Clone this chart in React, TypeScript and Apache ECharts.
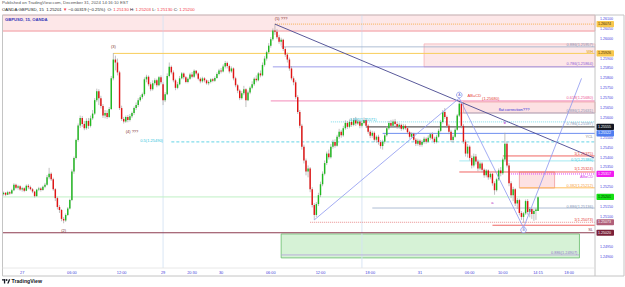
import React, { useEffect, useRef } from "react";
import * as echarts from "echarts";

const FONT = "'Liberation Sans', Arial, sans-serif";

// 15-minute candles, in 1/100000 above 1.20000: [open, close, low, high]
const candles: number[][] = [
  [5215, 5222, 5208, 5228], [5222, 5212, 5205, 5226], [5212, 5225, 5210, 5232], [5225, 5218, 5212, 5230],
  [5218, 5235, 5215, 5242], [5235, 5262, 5230, 5270], [5262, 5248, 5240, 5268], [5248, 5255, 5238, 5262],
  [5255, 5238, 5232, 5260], [5238, 5245, 5228, 5252], [5245, 5232, 5225, 5250], [5232, 5258, 5230, 5264],
  [5258, 5250, 5240, 5266], [5250, 5240, 5234, 5258], [5240, 5228, 5220, 5246], [5228, 5205, 5198, 5232],
  [5205, 5238, 5202, 5242], [5238, 5244, 5230, 5252], [5244, 5236, 5228, 5250], [5236, 5252, 5232, 5258],
  [5252, 5262, 5245, 5272], [5262, 5300, 5258, 5312], [5300, 5318, 5290, 5348], [5318, 5290, 5282, 5325],
  [5290, 5240, 5232, 5298], [5240, 5195, 5180, 5246], [5195, 5150, 5138, 5202], [5150, 5135, 5120, 5160],
  [5135, 5090, 5078, 5140], [5090, 5082, 5068, 5100], [5082, 5110, 5075, 5118], [5110, 5142, 5105, 5150],
  [5142, 5185, 5138, 5192], [5185, 5330, 5180, 5340], [5330, 5398, 5318, 5405], [5398, 5488, 5390, 5495],
  [5488, 5562, 5480, 5572], [5562, 5600, 5550, 5612], [5600, 5570, 5555, 5610], [5570, 5548, 5538, 5585],
  [5548, 5585, 5540, 5598], [5585, 5560, 5545, 5600], [5560, 5598, 5552, 5612], [5598, 5622, 5590, 5640],
  [5622, 5690, 5615, 5700], [5690, 5735, 5680, 5748], [5735, 5700, 5665, 5745], [5700, 5660, 5648, 5712],
  [5660, 5612, 5600, 5670], [5612, 5625, 5598, 5640], [5625, 5605, 5595, 5638], [5605, 5645, 5600, 5655],
  [5645, 5800, 5640, 5812], [5800, 5895, 5790, 5928], [5895, 5880, 5840, 5915], [5880, 5830, 5815, 5900],
  [5830, 5650, 5640, 5838], [5650, 5595, 5585, 5662], [5595, 5582, 5572, 5605], [5582, 5605, 5575, 5612],
  [5605, 5590, 5578, 5615], [5590, 5608, 5582, 5620], [5608, 5625, 5600, 5632], [5625, 5650, 5615, 5658],
  [5650, 5665, 5640, 5678], [5665, 5690, 5655, 5700], [5690, 5705, 5682, 5715], [5705, 5720, 5695, 5728],
  [5720, 5795, 5712, 5805], [5795, 5808, 5780, 5818], [5808, 5770, 5760, 5815], [5770, 5745, 5735, 5780],
  [5745, 5775, 5738, 5790], [5775, 5790, 5765, 5800], [5790, 5765, 5755, 5798], [5765, 5805, 5760, 5812],
  [5805, 5780, 5770, 5815],
  [5770, 5690, 5665, 5780], [5690, 5720, 5680, 5730], [5720, 5812, 5715, 5825], [5812, 5858, 5805, 5880],
  [5858, 5830, 5820, 5865], [5830, 5790, 5780, 5840], [5790, 5752, 5740, 5798], [5752, 5770, 5745, 5782],
  [5770, 5800, 5765, 5812], [5800, 5825, 5795, 5832], [5825, 5805, 5795, 5830], [5805, 5782, 5775, 5812],
  [5782, 5798, 5775, 5805], [5798, 5820, 5792, 5828], [5820, 5808, 5800, 5832], [5808, 5838, 5802, 5845],
  [5838, 5825, 5815, 5842], [5825, 5798, 5790, 5830], [5798, 5785, 5775, 5805], [5785, 5800, 5778, 5808],
  [5800, 5790, 5780, 5806], [5790, 5775, 5768, 5795], [5775, 5782, 5765, 5790], [5782, 5795, 5775, 5800],
  [5795, 5788, 5780, 5802], [5788, 5802, 5782, 5810], [5802, 5822, 5798, 5830], [5822, 5840, 5815, 5848],
  [5840, 5835, 5825, 5852], [5835, 5860, 5830, 5870], [5860, 5878, 5850, 5888], [5878, 5862, 5850, 5885],
  [5862, 5835, 5825, 5870], [5835, 5850, 5828, 5860], [5850, 5800, 5790, 5855], [5800, 5765, 5755, 5808],
  [5765, 5738, 5725, 5772], [5738, 5700, 5690, 5745], [5700, 5725, 5692, 5735], [5725, 5745, 5715, 5762],
  [5745, 5690, 5655, 5750], [5690, 5728, 5685, 5738], [5728, 5752, 5720, 5760], [5752, 5770, 5745, 5785],
  [5770, 5798, 5762, 5805], [5798, 5790, 5780, 5815], [5790, 5825, 5785, 5832], [5825, 5815, 5805, 5840],
  [5815, 5868, 5810, 5880], [5868, 5900, 5860, 5912], [5900, 5932, 5890, 5940], [5932, 5965, 5925, 5978],
  [5965, 5998, 5955, 6008], [5998, 6042, 5990, 6052], [6042, 6035, 6020, 6074], [6035, 6008, 5998, 6048],
  [6008, 5985, 5975, 6020], [5985, 5995, 5965, 6005], [5995, 5948, 5938, 6000], [5948, 5920, 5908, 5958],
  [5920, 5895, 5880, 5930], [5895, 5850, 5838, 5905], [5850, 5800, 5790, 5862], [5800, 5780, 5765, 5810],
  [5780, 5705, 5695, 5790], [5705, 5630, 5620, 5715], [5630, 5560, 5548, 5640], [5560, 5455, 5440, 5570],
  [5455, 5385, 5370, 5465], [5385, 5330, 5310, 5395], [5330, 5345, 5300, 5360], [5345, 5240, 5225, 5352],
  [5240, 5160, 5148, 5250], [5160, 5110, 5085, 5170], [5110, 5165, 5100, 5175], [5165, 5210, 5155, 5222],
  [5210, 5265, 5200, 5278], [5265, 5318, 5255, 5330], [5318, 5372, 5310, 5385], [5372, 5420, 5362, 5430],
  [5420, 5402, 5390, 5440], [5402, 5455, 5395, 5468], [5455, 5478, 5445, 5490], [5478, 5460, 5450, 5492],
  [5460, 5505, 5455, 5515], [5505, 5530, 5495, 5545], [5530, 5512, 5500, 5540], [5512, 5548, 5505, 5560],
  [5548, 5575, 5540, 5588], [5575, 5555, 5545, 5585], [5555, 5580, 5548, 5592], [5580, 5565, 5555, 5598],
  [5565, 5590, 5558, 5600], [5590, 5572, 5560, 5605], [5572, 5582, 5565, 5596], [5582, 5560, 5548, 5590],
  [5560, 5575, 5552, 5585], [5575, 5590, 5568, 5602], [5590, 5560, 5550, 5598], [5560, 5530, 5520, 5568],
  [5530, 5510, 5498, 5540], [5510, 5525, 5500, 5535], [5525, 5490, 5478, 5532], [5490, 5505, 5475, 5512],
  [5505, 5478, 5465, 5515], [5478, 5458, 5445, 5488], [5458, 5480, 5440, 5490], [5480, 5512, 5470, 5520],
  [5512, 5548, 5505, 5558], [5548, 5575, 5540, 5585], [5575, 5560, 5550, 5590], [5560, 5582, 5552, 5592],
  [5582, 5570, 5560, 5595], [5570, 5555, 5545, 5580], [5555, 5565, 5545, 5575], [5565, 5545, 5535, 5572],
  [5545, 5560, 5538, 5570], [5560, 5548, 5540, 5568], [5548, 5528, 5518, 5555], [5528, 5505, 5495, 5535],
  [5505, 5520, 5498, 5528], [5520, 5490, 5480, 5525], [5490, 5470, 5458, 5498], [5470, 5485, 5460, 5495],
  [5485, 5465, 5455, 5492], [5465, 5478, 5455, 5488], [5478, 5495, 5470, 5505], [5495, 5480, 5470, 5502],
  [5480, 5500, 5475, 5512], [5500, 5518, 5490, 5525], [5518, 5495, 5485, 5528], [5495, 5478, 5470, 5505],
  [5478, 5505, 5472, 5515], [5505, 5535, 5500, 5545], [5535, 5580, 5528, 5590], [5580, 5630, 5572, 5640],
  [5630, 5605, 5595, 5650], [5605, 5560, 5550, 5612], [5560, 5530, 5518, 5570], [5530, 5488, 5478, 5540],
  [5488, 5505, 5475, 5515], [5505, 5540, 5500, 5550], [5540, 5612, 5535, 5620], [5612, 5672, 5605, 5688],
  [5672, 5560, 5548, 5680], [5560, 5480, 5470, 5570], [5480, 5420, 5405, 5490], [5420, 5455, 5400, 5468],
  [5455, 5398, 5385, 5462], [5398, 5360, 5345, 5410], [5360, 5405, 5350, 5420], [5405, 5380, 5365, 5418],
  [5380, 5345, 5330, 5390], [5345, 5370, 5335, 5380], [5370, 5338, 5325, 5378], [5338, 5310, 5298, 5345],
  [5310, 5335, 5300, 5342], [5335, 5300, 5288, 5340], [5300, 5318, 5290, 5325], [5318, 5270, 5258, 5322],
  [5270, 5235, 5212, 5280], [5235, 5290, 5228, 5298], [5290, 5335, 5282, 5345], [5335, 5320, 5305, 5352],
  [5320, 5390, 5312, 5400], [5390, 5470, 5380, 5525], [5470, 5360, 5350, 5480], [5360, 5270, 5255, 5372],
  [5270, 5210, 5195, 5280], [5210, 5240, 5180, 5252], [5240, 5168, 5155, 5245], [5168, 5185, 5140, 5195],
  [5185, 5120, 5108, 5192], [5120, 5100, 5085, 5130], [5100, 5118, 5070, 5125], [5118, 5180, 5110, 5188],
  [5180, 5125, 5112, 5190], [5125, 5140, 5098, 5150], [5140, 5115, 5090, 5145], [5115, 5130, 5080, 5138],
  [5130, 5138, 5085, 5145], [5130, 5200, 5130, 5203],
];

// trading sessions: [year, month(0-based), day, hour, minute, number of 15-minute slots]
const sessions: number[][] = [
  [2024, 11, 26, 21, 45, 77],
  [2024, 11, 29, 17, 0, 209],
];

// time-axis tick labels
const timeTicks: [string, string][] = [
  ["12-27 00:00", "27"], ["12-27 06:00", "06:00"], ["12-27 12:00", "12:00"],
  ["12-29 17:00", "29"], ["12-29 20:30", "20:30"], ["12-30 00:00", "30"],
  ["12-30 06:00", "06:00"], ["12-30 12:00", "12:00"], ["12-30 18:00", "18:00"],
  ["12-31 00:00", "31"], ["12-31 06:00", "06:00"], ["12-31 10:00", "10:00"],
  ["12-31 14:15", "14:15"], ["12-31 18:00", "18:00"],
];

// price-axis labels that are not hidden by price tags
const priceTicks: number[] = [
  1.261, 1.2605, 1.26, 1.259, 1.2585, 1.258, 1.2575, 1.257, 1.2565, 1.256, 1.255,
  1.2545, 1.254, 1.2535, 1.2525, 1.2515, 1.251, 1.2495, 1.249,
];

// session break bars
const sessionBreaks: number[] = [77, 173];

// horizontal levels: [fromBar (-1 = left edge), toBar (-1 = right edge), price, style]
const levels: [number, number, number, string][] = [
  [-1, -1, 1.26039, "zoneEdge"],
  [131, -1, 1.26074, "orangeDot"],
  [134, -1, 1.25959, "fibGray"],
  [53, -1, 1.25926, "yellow"],
  [130, -1, 1.25858, "violet"],
  [129, -1, 1.25686, "pink"],
  [220, -1, 1.25625, "fibGray"],
  [158, -1, 1.2558, "cyanDot"],
  [175, -1, 1.25555, "darkGray"],
  [183, -1, 1.25522, "ycl"],
  [81, -1, 1.25479, "cyanDash"],
  [241, -1, 1.25408, "red"],
  [220, -1, 1.25383, "cyan"],
  [220, -1, 1.25327, "red"],
  [244, -1, 1.25317, "magentaDot"],
  [249, -1, 1.25247, "orange"],
  [-1, -1, 1.25201, "lightGreen"],
  [178, -1, 1.25145, "fibGray"],
  [148, -1, 1.25073, "redDot"],
  [236, -1, 1.25058, "red"],
  [-1, -1, 1.2502, "maroon"],
  [134, 278, 1.24908, "purple"],
];

// boxes: [fromBar, toBar, topPrice, bottomPrice, style]
const zones: [number, number, number, number, string][] = [
  [-1, -1, 1.2612, 1.26039, "pinkZone"],
  [203, -1, 1.25974, 1.25858, "pinkZone"],
  [222, -1, 1.25681, 1.25625, "pinkBox"],
  [249, 266, 1.25327, 1.25246, "pinkBox"],
  [134, 278, 1.25014, 1.24893, "greenZone"],
];

// trend lines: [bar1, price1, bar2, price2, style]
const trends: [number, number, number, number, string][] = [
  [131, 1.26074, 285, 1.25398, "navy"],
  [150, 1.25085, 220, 1.257, "wave"],
  [220, 1.257, 251, 1.25045, "wave"],
  [251, 1.25045, 279, 1.258, "wave"],
];

// text notes: [bar, price, text, colour key, align]
const notes: [number, number, string, string, string][] = [
  [29, 1.25029, "(2)", "wave", "center"],
  [53, 1.25959, "(3)", "wave", "center"],
  [62, 1.25529, "(4) ???", "wave", "center"],
  [134, 1.26102, "(5) ???", "wave", "center"],
  [242, 1.25575, "b", "abc", "center"],
  [236, 1.25171, "a", "abc", "center"],
  [66, 1.25484, "0.5(1.25490)", "cyan", "left"],
  [167, 1.2559, "0.382(1.25571)", "cyan", "left"],
  [224, 1.25711, "AB=CD", "red", "left"],
  [231, 1.25696, "(1.25680)", "red", "left"],
  [239, 1.25645, "flat correction???", "blue", "left"],
];

// labels at the right end of levels: [price, text, colour key]
const edgeLabels: [number, string, string][] = [
  [1.2597, "0.886(1.25957)", "fib"],
  [1.25938, "WH", "yellow"],
  [1.25874, "0.786(1.25864)", "violet"],
  [1.25701, "0.618(1.25680)", "pink"],
  [1.2564, "0.886(1.25631)", "fib"],
  [1.2557, "0.786(1.25597)", "fib"],
  [1.25508, "YCL", "gray"],
  [1.25418, "1(1.25375)", "red"],
  [1.25391, "0.5(1.25386)", "cyan"],
  [1.25344, "1(1.25324)", "red"],
  [1.25302, "AB=CD", "magenta"],
  [1.25257, "0.382(1.25212)", "orange"],
  [1.25155, "0.886(1.25136)", "fib"],
  [1.25085, "1(1.25073)", "red"],
  [1.25034, "SL", "maroon"],
];
const greenBoxLabel: [number, number, string] = [277, 1.24918, "0.886(1.24907)"];

// circled wave points: [bar, price, letter]
const circles: [number, number, string][] = [
  [220, 1.25716, "A"],
  [251, 1.25034, "B"],
];

// price tags on the axis: [price, text, background, text colour]
const tags: [number, string, string, string][] = [
  [1.26074, "1.26074", "#f8c74e", "#3a2a00"],
  [1.25926, "1.25926", "#f8c74e", "#3a2a00"],
  [1.25555, "1.25555", "#131722", "#ffffff"],
  [1.25522, "1.25522", "#4f7df0", "#ffffff"],
  [1.25317, "1.25317", "#f01cf0", "#ffffff"],
  [1.25201, "1.25201", "#13e013", "#053505"],
  [1.25073, "1.25073", "#b0607a", "#ffffff"],
  [1.2502, "1.25020", "#7a2038", "#ffffff"],
];

const lineStyles: Record<string, { stroke: string; w: number; dash?: number[] }> = {
  zoneEdge: { stroke: "#f3a7ad", w: 0.8 },
  orangeDot: { stroke: "#f5a331", w: 0.8, dash: [1, 1] },
  yellow: { stroke: "#f8cd5a", w: 1 },
  fibGray: { stroke: "#9badc9", w: 0.8 },
  violet: { stroke: "#8585e4", w: 0.8 },
  pink: { stroke: "#f07ab0", w: 0.9 },
  cyanDot: { stroke: "#5fd3e6", w: 0.8, dash: [1, 1] },
  darkGray: { stroke: "#5c5c5c", w: 1.3 },
  ycl: { stroke: "#6f8ff0", w: 1 },
  cyanDash: { stroke: "#3cc9df", w: 0.8, dash: [3, 2] },
  red: { stroke: "#ef5350", w: 0.9 },
  cyan: { stroke: "#8ee3ee", w: 0.8 },
  magentaDot: { stroke: "#e040fb", w: 1, dash: [1, 1] },
  orange: { stroke: "#ffb74d", w: 0.9 },
  lightGreen: { stroke: "#bff0c4", w: 1 },
  redDot: { stroke: "#e57373", w: 0.8, dash: [1, 1] },
  maroon: { stroke: "#8d3b4f", w: 1 },
  purple: { stroke: "#b39ddb", w: 0.8 },
  navy: { stroke: "#46468f", w: 0.9 },
  wave: { stroke: "#8c97f0", w: 0.8 },
};
const zoneStyles: Record<string, { fill: string; stroke: string }> = {
  pinkZone: { fill: "rgba(242,54,69,0.12)", stroke: "#f5b3b8" },
  pinkBox: { fill: "rgba(242,54,69,0.15)", stroke: "#ef9a9a" },
  greenZone: { fill: "rgba(90,205,90,0.25)", stroke: "#66bb6a" },
};
const textColors: Record<string, string> = {
  wave: "#7d2c2c", abc: "#b020c0", cyan: "#2ec4dc", red: "#e53935", blue: "#2b2bd9",
  fib: "#8193b6", yellow: "#e0a000", violet: "#8a5ad8", pink: "#ee5596", gray: "#8a8a8a",
  magenta: "#d63ae8", orange: "#f5a040", maroon: "#8d3b4f",
};

const AXIS_BLUE = "#4343dc";
const PX = (v: number) => 1.2 + v / 100000;

function pad(n: number) {
  return n < 10 ? "0" + n : "" + n;
}
function buildCategories(): string[] {
  const out: string[] = [];
  for (const [y, m, d, hh, mm, n] of sessions) {
    const t0 = Date.UTC(y, m, d, hh, mm);
    for (let k = 0; k < n; k++) {
      const dt = new Date(t0 + k * 900000);
      out.push(
        `${pad(dt.getUTCMonth() + 1)}-${pad(dt.getUTCDate())} ${pad(dt.getUTCHours())}:${pad(dt.getUTCMinutes())}`
      );
    }
  }
  return out;
}

export default function App() {
  const ref = useRef<HTMLDivElement>(null);
  useEffect(() => {
    if (!ref.current) return;
    const chart = echarts.init(ref.current, undefined, { renderer: "svg" });
    const categories = buildCategories();
    const tickMap = new Map(timeTicks);
    const edgeX = (cs: any, bar: number, api: any, price: number, side: "l" | "r") => {
      if (bar < 0) return side === "l" ? cs.x : cs.x + cs.width;
      return api.coord([bar, price])[0];
    };

    const option: any = {
      animation: false,
      backgroundColor: "#ffffff",
      grid: { left: 2.5, right: 30, top: 15, bottom: 19 },
      xAxis: {
        type: "category",
        data: categories,
        boundaryGap: true,
        axisLine: { show: false },
        axisTick: { show: false },
        splitLine: { show: false },
        axisLabel: {
          interval: (_i: number, name: string) => tickMap.has(name),
          formatter: (name: string) => tickMap.get(name) ?? "",
          fontSize: 3.9,
          fontFamily: FONT,
          color: AXIS_BLUE,
          margin: 2.5,
        },
      },
      yAxis: {
        type: "value",
        position: "right",
        min: 1.24842,
        max: 1.2612,
        axisLine: { show: false },
        axisTick: { show: false },
        splitLine: { show: false },
        axisLabel: {
          customValues: priceTicks,
          formatter: (v: number) => v.toFixed(5),
          fontSize: 3.6,
          fontFamily: FONT,
          color: AXIS_BLUE,
          margin: 5,
        },
      },
      graphic: [
        {
          type: "text", left: 2, top: 0.8, silent: true,
          style: { text: "Published on TradingView.com, December 31, 2024 14:16:10 EST", fontSize: 4.3, fontFamily: FONT, fill: "#555" },
        },
        {
          type: "text", left: 2, top: 7.6, silent: true,
          style: {
            text: "{d|OANDA:GBPUSD, 15  1.25201 }{r|▼}{d| −0.00319 (−0.25%)  O: }{r|1.25130}{d| H: }{r|1.25203}{d| L: }{r|1.25130}{d| C: }{r|1.25200}",
            rich: {
              d: { fontSize: 4.3, fontFamily: FONT, fill: "#222" },
              r: { fontSize: 4.3, fontFamily: FONT, fill: "#f23645" },
            },
          },
        },
        {
          type: "text", left: 5, top: 17.8, silent: true, z: 100,
          style: { text: "GBPUSD, 15, OANDA", fontSize: 4.2, fontWeight: "bold", fontFamily: FONT, fill: "#3434b8" },
        },
        {
          type: "rect", silent: true, z: 100,
          shape: { x: 2.5, y: 15, width: 621.5, height: 261 },
          style: { fill: "none", stroke: "#c4c4c4", lineWidth: 1 },
        },
        { type: "line", silent: true, z: 100, shape: { x1: 595, y1: 15, x2: 595, y2: 276 }, style: { stroke: "#c4c4c4", lineWidth: 1 } },
        { type: "line", silent: true, z: 100, shape: { x1: 2.5, y1: 268, x2: 595, y2: 268 }, style: { stroke: "#e2e2e2", lineWidth: 0.8 } },
        { type: "rect", silent: true, shape: { x: 2, y: 279.2, width: 3.2, height: 1.3 }, style: { fill: "#131722" } },
        { type: "rect", silent: true, shape: { x: 3.9, y: 279.2, width: 1.3, height: 4.2 }, style: { fill: "#131722" } },
        { type: "circle", silent: true, shape: { cx: 6.6, cy: 280.1, r: 0.85 }, style: { fill: "#131722" } },
        { type: "polygon", silent: true, shape: { points: [[7.2, 283.4], [8.9, 279.2], [10.3, 279.2], [8.6, 283.4]] }, style: { fill: "#131722" } },
        {
          type: "text", left: 11.5, top: 278.8, silent: true,
          style: { text: "TradingView", fontSize: 5.2, fontWeight: "bold", fontFamily: FONT, fill: "#131722" },
        },
      ],
      series: [
        {
          type: "custom",
          name: "zones",
          silent: true,
          z: 1,
          data: zones.map((z, k) => [Math.max(z[0], 0), z[2], k]),
          encode: { x: 0, y: 1 },
          renderItem: (params: any, api: any) => {
            const z = zones[api.value(2)];
            const cs = params.coordSys;
            const x1 = edgeX(cs, z[0], api, z[2], "l");
            const x2 = edgeX(cs, z[1], api, z[2], "r");
            const y1 = api.coord([0, z[2]])[1];
            const y2 = api.coord([0, z[3]])[1];
            const st = zoneStyles[z[4]];
            return {
              type: "rect",
              shape: { x: x1, y: y1, width: x2 - x1, height: y2 - y1 },
              style: { fill: st.fill, stroke: st.stroke, lineWidth: 0.8 },
            };
          },
        },
        {
          type: "custom",
          name: "breaks",
          silent: true,
          z: 1,
          data: sessionBreaks.map((b) => [b, 1.25]),
          encode: { x: 0, y: 1 },
          renderItem: (params: any, api: any) => {
            const cs = params.coordSys;
            const x = api.coord([api.value(0), 1.25])[0];
            return { type: "line", shape: { x1: x, y1: cs.y, x2: x, y2: cs.y + cs.height }, style: { stroke: "#d5e3f4", lineWidth: 0.9 } };
          },
        },
        {
          type: "custom",
          name: "levels",
          silent: true,
          z: 2,
          data: levels.map((l, k) => [Math.max(l[0], 0), l[2], k]),
          encode: { x: 0, y: 1 },
          renderItem: (params: any, api: any) => {
            const l = levels[api.value(2)];
            const cs = params.coordSys;
            const x1 = edgeX(cs, l[0], api, l[2], "l");
            const x2 = edgeX(cs, l[1], api, l[2], "r");
            const y = api.coord([0, l[2]])[1];
            const st = lineStyles[l[3]];
            return {
              type: "line",
              shape: { x1, y1: y, x2, y2: y },
              style: { stroke: st.stroke, lineWidth: st.w, lineDash: st.dash || null },
            };
          },
        },
        {
          type: "custom",
          name: "candles",
          silent: true,
          z: 5,
          data: candles.map((c, i) => [i, PX(c[0]), PX(c[1]), PX(c[2]), PX(c[3])]),
          encode: { x: 0, y: [1, 2, 3, 4] },
          renderItem: (_params: any, api: any) => {
            const i = api.value(0);
            const o = api.value(1), c = api.value(2), lo = api.value(3), hi = api.value(4);
            const top = api.coord([i, Math.max(hi, o, c)]);
            const bot = api.coord([i, Math.min(lo, o, c)]);
            const po = api.coord([i, o]);
            const pc = api.coord([i, c]);
            const bw = api.size([1, 0])[0] * 0.7;
            const up = c >= o;
            const y0 = Math.min(po[1], pc[1]);
            const h = Math.max(Math.abs(po[1] - pc[1]), 0.7);
            return {
              type: "group",
              children: [
                { type: "line", shape: { x1: top[0], y1: top[1], x2: bot[0], y2: bot[1] }, style: { stroke: "#a6a6a6", lineWidth: 0.7 } },
                { type: "rect", shape: { x: po[0] - bw / 2, y: y0, width: bw, height: h }, style: { fill: up ? "#20b820" : "#e01414" } },
              ],
            };
          },
        },
        {
          type: "custom",
          name: "trends",
          silent: true,
          z: 6,
          data: trends.map((t, k) => [t[0], t[1], k]),
          encode: { x: 0, y: 1 },
          renderItem: (_params: any, api: any) => {
            const t = trends[api.value(2)];
            const p1 = api.coord([t[0], t[1]]);
            const p2 = api.coord([t[2], t[3]]);
            const st = lineStyles[t[4]];
            return { type: "line", shape: { x1: p1[0], y1: p1[1], x2: p2[0], y2: p2[1] }, style: { stroke: st.stroke, lineWidth: st.w } };
          },
        },
        {
          type: "custom",
          name: "circles",
          silent: true,
          z: 7,
          data: circles.map((c, k) => [c[0], c[1], k]),
          encode: { x: 0, y: 1 },
          renderItem: (_params: any, api: any) => {
            const c = circles[api.value(2)];
            const p = api.coord([c[0], c[1]]);
            return {
              type: "group",
              children: [
                { type: "circle", shape: { cx: p[0], cy: p[1], r: 2.8 }, style: { fill: "rgba(255,255,255,0.85)", stroke: "#7e8ae8", lineWidth: 0.7 } },
                { type: "text", x: p[0], y: p[1], style: { text: c[2], fontSize: 3.4, fontFamily: FONT, fill: "#5a66cc", align: "center", verticalAlign: "middle" } },
              ],
            };
          },
        },
        {
          type: "custom",
          name: "notes",
          silent: true,
          z: 8,
          data: notes.map((n, k) => [n[0], n[1], k]),
          encode: { x: 0, y: 1 },
          renderItem: (_params: any, api: any) => {
            const n = notes[api.value(2)];
            const p = api.coord([n[0], n[1]]);
            return {
              type: "text", x: p[0], y: p[1],
              style: { text: n[2], fontSize: 4, fontFamily: FONT, fill: textColors[n[3]], align: n[4], verticalAlign: "middle" },
            };
          },
        },
        {
          type: "custom",
          name: "edgeLabels",
          silent: true,
          z: 8,
          data: edgeLabels.map((e, k) => [0, e[0], k]),
          encode: { x: 0, y: 1 },
          renderItem: (params: any, api: any) => {
            const e = edgeLabels[api.value(2)];
            const cs = params.coordSys;
            const y = api.coord([0, e[0]])[1];
            return {
              type: "text", x: cs.x + cs.width - 2, y,
              style: { text: e[1], fontSize: 3.9, fontFamily: FONT, fill: textColors[e[2]], align: "right", verticalAlign: "middle" },
            };
          },
        },
        {
          type: "custom",
          name: "greenBoxLabel",
          silent: true,
          z: 8,
          data: [[greenBoxLabel[0], greenBoxLabel[1]]],
          encode: { x: 0, y: 1 },
          renderItem: (_params: any, api: any) => {
            const p = api.coord([api.value(0), api.value(1)]);
            return {
              type: "text", x: p[0], y: p[1],
              style: { text: greenBoxLabel[2], fontSize: 3.9, fontFamily: FONT, fill: "#9575cd", align: "right", verticalAlign: "middle" },
            };
          },
        },
        {
          type: "custom",
          name: "tags",
          silent: true,
          z: 20,
          clip: false,
          data: tags.map((t, k) => [0, t[0], k]),
          encode: { x: 0, y: 1 },
          renderItem: (params: any, api: any) => {
            const t = tags[api.value(2)];
            const cs = params.coordSys;
            const y = api.coord([0, t[0]])[1];
            const x = cs.x + cs.width + 1.5;
            return {
              type: "group",
              children: [
                { type: "rect", shape: { x, y: y - 3.1, width: 17.5, height: 6.2, r: 0.8 }, style: { fill: t[2] } },
                { type: "text", x: x + 1.6, y, style: { text: t[1], fontSize: 3.6, fontFamily: FONT, fill: t[3], align: "left", verticalAlign: "middle" } },
              ],
            };
          },
        },
      ],
    };
    chart.setOption(option);
    return () => chart.dispose();
  }, []);
  return <div ref={ref} style={{ position: "fixed", left: 0, top: 0, width: 625, height: 287 }} />;
}
